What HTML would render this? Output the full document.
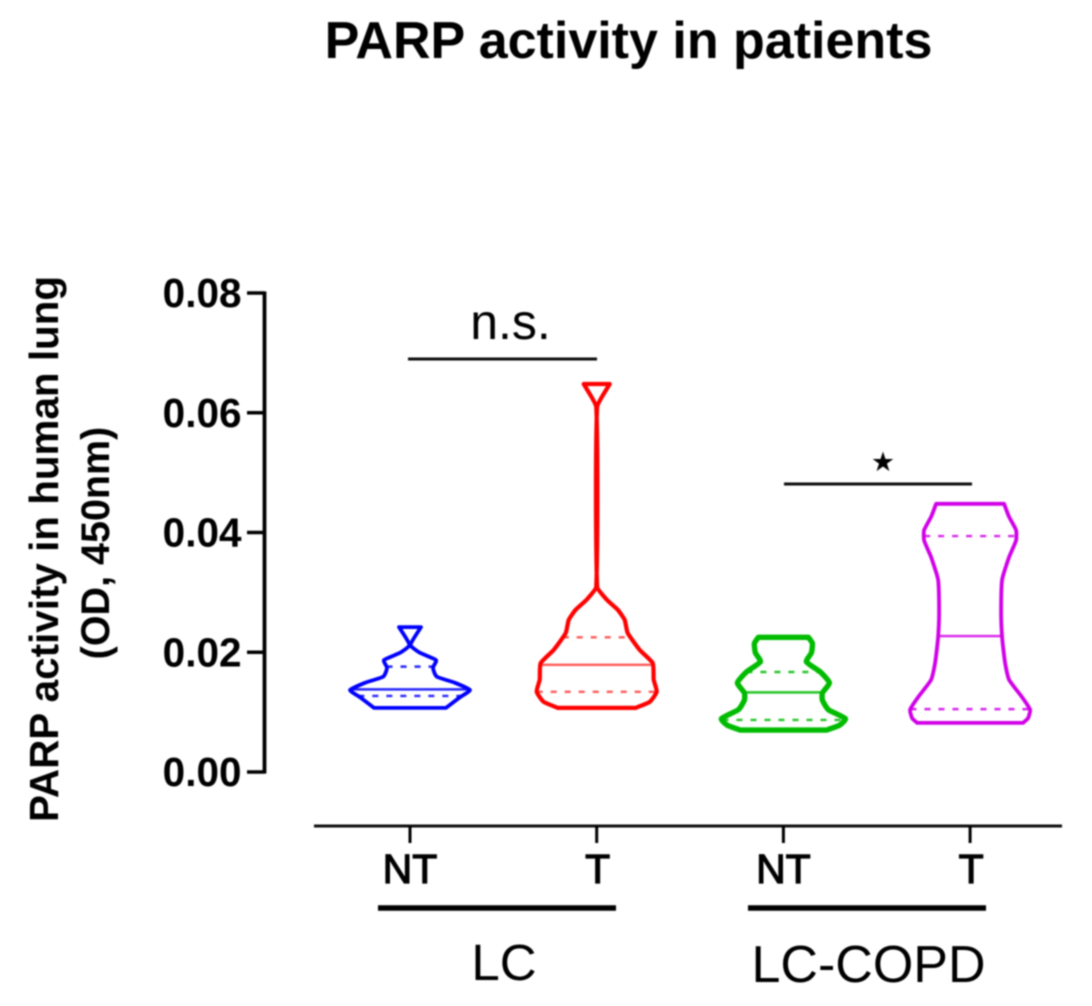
<!DOCTYPE html>
<html lang="en">
<head>
<meta charset="utf-8">
<title>PARP activity in patients</title>
<style>
html,body{margin:0;padding:0;background:#fff;}
body{width:1092px;height:1006px;overflow:hidden;}
svg{display:block;font-family:"Liberation Sans",Arial,sans-serif;}
</style>
</head>
<body>
<svg id="chart" width="1092" height="1006" viewBox="0 0 1092 1006" xmlns="http://www.w3.org/2000/svg">
  <defs><filter id="soft" x="-5%" y="-5%" width="110%" height="110%"><feGaussianBlur stdDeviation="0.9"/></filter></defs>
  <rect width="1092" height="1006" fill="#fff"/>
  <g id="root" filter="url(#soft)">
    <text x="628.5" y="58" font-size="52" font-weight="700" text-anchor="middle" fill="#000">PARP activity in patients</text>
    <text transform="translate(58,549) rotate(-90)" font-size="40.4" font-weight="700" text-anchor="middle" fill="#000">PARP activity in human lung</text>
    <text transform="translate(109,543) rotate(-90)" font-size="39.5" font-weight="700" text-anchor="middle" fill="#000">(OD, 450nm)</text>
    <text x="510.5" y="339" font-size="50" text-anchor="middle" fill="#000">n.s.</text>
    <line x1="408" x2="597" y1="359" y2="359" stroke="#111" stroke-width="3"/>
    <text x="883" y="471" font-size="27" text-anchor="middle" fill="#000" style="font-family:'DejaVu Sans',sans-serif">★</text>
    <line x1="784" x2="972" y1="484" y2="484" stroke="#111" stroke-width="3"/>
    <line x1="378" x2="616" y1="908" y2="908" stroke="#000" stroke-width="5.5"/>
    <line x1="748" x2="986" y1="908" y2="908" stroke="#000" stroke-width="5.5"/>
    <text x="504" y="980" font-size="51" text-anchor="middle" fill="#000">LC</text>
    <text x="868.5" y="982" font-size="52" text-anchor="middle" fill="#000">LC-COPD</text>
    <g id="axes"></g>
    <g id="violins"></g>
  </g>
</svg>
<script>
const categories = ["NT", "T", "NT", "T"];
const violinNames = ["lc-nt", "lc-t", "copd-nt", "copd-t"];
const colors = ["#0000ff", "#ff0000", "#00bb00", "#d000e8"];
const strokeWidths = [3.8, 4.2, 5.4, 3.8];
const yTicks = [0, 0.02, 0.04, 0.06, 0.08];
const yTickLabels = ["0.00", "0.02", "0.04", "0.06", "0.08"];

/* Violin outlines: OD value and the density (half-width) at that value */
const lcNtValues = [0.0107, 0.0125, 0.0137, 0.0149, 0.0159, 0.0174, 0.0187, 0.0199, 0.0212, 0.0242];
const lcNtDensity = [36, 50, 60, 45, 27, 23, 26, 10, 0.5, 11];
const lcTValues = [0.0107, 0.0117, 0.0134, 0.0154, 0.0182, 0.0204, 0.0232, 0.0254, 0.0271, 0.0288, 0.0309, 0.0610, 0.0648];
const lcTDensity = [39, 53, 60, 57, 56, 43, 31, 28, 21, 10, 0.5, 0.5, 13];
const copdNtValues = [0.0070, 0.0078, 0.0089, 0.0104, 0.0120, 0.0132, 0.0149, 0.0167, 0.0184, 0.0199, 0.0215, 0.0225];
const copdNtDensity = [43, 56, 62, 45, 39, 39, 46, 37, 23, 28, 29, 25];
const copdTValues = [0.0082, 0.0090, 0.0104, 0.0125, 0.0154, 0.0182, 0.0225, 0.0266, 0.0321, 0.0359, 0.0387, 0.0404, 0.0426, 0.0448];
const copdTDensity = [53, 58, 60, 52, 39, 35, 32, 31, 32, 39, 46, 46, 39, 34];

const q1Values = [0.0127, 0.0134, 0.0087, 0.0105];
const medianValues = [0.0138, 0.0179, 0.0133, 0.0227];
const q3Values = [0.0176, 0.0225, 0.0167, 0.0394];

const outlineValues = [lcNtValues, lcTValues, copdNtValues, copdTValues];
const outlineDensity = [lcNtDensity, lcTDensity, copdNtDensity, copdTDensity];

const NS = "http://www.w3.org/2000/svg";
const axesLayer = document.getElementById("axes");
const violinLayer = document.getElementById("violins");

function yScale(v) { return 772 - (v / 0.08) * 479; }
function xScale(i) { return 410 + i * 186.7; }
function widthScale(d) { return d; }

function densityAt(values, density, v) {
  if (v <= values[0]) return density[0];
  for (let i = 1; i < values.length; i++) {
    if (v <= values[i]) {
      const t = (v - values[i - 1]) / (values[i] - values[i - 1]);
      return density[i - 1] + t * (density[i] - density[i - 1]);
    }
  }
  return density[density.length - 1];
}

function smoothSegments(pts) {
  let d = "";
  const f = 1 / 6;
  for (let i = 0; i < pts.length - 1; i++) {
    const p0 = pts[Math.max(i - 1, 0)], p1 = pts[i], p2 = pts[i + 1], p3 = pts[Math.min(i + 2, pts.length - 1)];
    /* control handles are limited to the segment height so long spines stay straight */
    const h = Math.abs(p2[1] - p1[1]);
    const s1 = Math.min(1, h / Math.max(Math.abs(p2[1] - p0[1]), 1));
    const s2 = Math.min(1, h / Math.max(Math.abs(p3[1] - p1[1]), 1));
    const c1x = p1[0] + (p2[0] - p0[0]) * f * s1, c1y = p1[1] + (p2[1] - p0[1]) * f * s1;
    const c2x = p2[0] - (p3[0] - p1[0]) * f * s2, c2y = p2[1] - (p3[1] - p1[1]) * f * s2;
    d += "C" + c1x.toFixed(1) + " " + c1y.toFixed(1) + " " + c2x.toFixed(1) + " " + c2y.toFixed(1) + " " + p2[0].toFixed(1) + " " + p2[1].toFixed(1);
  }
  return d;
}

/* y axis */
const yAxisLine = document.createElementNS(NS, "line");


yAxisLine.setAttribute("x1", 264.5);
yAxisLine.setAttribute("x2", 264.5);
yAxisLine.setAttribute("y1", yScale(0.08) - 1.5);
yAxisLine.setAttribute("y2", yScale(0) + 1.5);
yAxisLine.setAttribute("stroke", "#000");
yAxisLine.setAttribute("stroke-width", 3.8);
axesLayer.appendChild(yAxisLine);

yTicks.forEach(function (t, i) {
  const tick = document.createElementNS(NS, "line");
  
  
  tick.setAttribute("x1", 247);
  tick.setAttribute("x2", 265);
  tick.setAttribute("y1", yScale(t));
  tick.setAttribute("y2", yScale(t));
  tick.setAttribute("stroke", "#000");
  tick.setAttribute("stroke-width", 3.6);
  axesLayer.appendChild(tick);

  const label = document.createElementNS(NS, "text");
  
  
  label.setAttribute("x", 241.5);
  label.setAttribute("y", yScale(t) + 14);
  label.setAttribute("text-anchor", "end");
  label.setAttribute("font-size", 40.5);
  label.setAttribute("font-weight", 700);
  label.setAttribute("fill", "#000");
  label.textContent = yTickLabels[i];
  axesLayer.appendChild(label);
});

/* x axis */
const xAxisLine = document.createElementNS(NS, "line");


xAxisLine.setAttribute("x1", 314);
xAxisLine.setAttribute("x2", 1062);
xAxisLine.setAttribute("y1", 826);
xAxisLine.setAttribute("y2", 826);
xAxisLine.setAttribute("stroke", "#111");
xAxisLine.setAttribute("stroke-width", 3);
axesLayer.appendChild(xAxisLine);

categories.forEach(function (c, i) {
  const tick = document.createElementNS(NS, "line");
  
  
  tick.setAttribute("x1", xScale(i));
  tick.setAttribute("x2", xScale(i));
  tick.setAttribute("y1", 826);
  tick.setAttribute("y2", 843);
  tick.setAttribute("stroke", "#000");
  tick.setAttribute("stroke-width", 3);
  axesLayer.appendChild(tick);

  const label = document.createElementNS(NS, "text");
  
  
  label.setAttribute("x", xScale(i) + (c === "T" ? 1 : 0));
  label.setAttribute("y", 883);
  label.setAttribute("text-anchor", "middle");
  label.setAttribute("font-size", 41);
  label.setAttribute("fill", "#000");
  label.setAttribute("stroke", "#000");
  label.setAttribute("stroke-width", 1.2);
  label.textContent = c;
  axesLayer.appendChild(label);
});

/* violins */
categories.forEach(function (c, i) {
  const cx = xScale(i);
  const values = outlineValues[i];
  const density = outlineDensity[i];
  const group = document.createElementNS(NS, "g");
  
  

  const right = values.map(function (v, k) { return [cx + widthScale(density[k]), yScale(v)]; });
  const left = values.map(function (v, k) { return [cx - widthScale(density[k]), yScale(v)]; }).reverse();
  const d = "M" + right[0][0].toFixed(1) + " " + right[0][1].toFixed(1) + smoothSegments(right) +
    "L" + left[0][0].toFixed(1) + " " + left[0][1].toFixed(1) + smoothSegments(left) + "Z";

  const outline = document.createElementNS(NS, "path");
  
  
  outline.setAttribute("d", d);
  outline.setAttribute("fill", "none");
  outline.setAttribute("stroke", colors[i]);
  outline.setAttribute("stroke-width", strokeWidths[i]);
  outline.setAttribute("stroke-linejoin", "round");
  group.appendChild(outline);

  [q1Values[i], medianValues[i], q3Values[i]].forEach(function (v, k) {
    const hw = widthScale(densityAt(values, density, v));
    const line = document.createElementNS(NS, "line");
    
    
    line.setAttribute("x1", cx - hw);
    line.setAttribute("x2", cx + hw);
    line.setAttribute("y1", yScale(v));
    line.setAttribute("y2", yScale(v));
    line.setAttribute("stroke", colors[i]);
    line.setAttribute("stroke-width", 2.4);
    line.setAttribute("stroke-opacity", i === 1 ? 0.65 : 0.85);
    if (k !== 1) {
      line.setAttribute("stroke-dasharray", "6 8");
    }
    group.appendChild(line);
  });
  violinLayer.appendChild(group);
});
</script>
</body>
</html>
